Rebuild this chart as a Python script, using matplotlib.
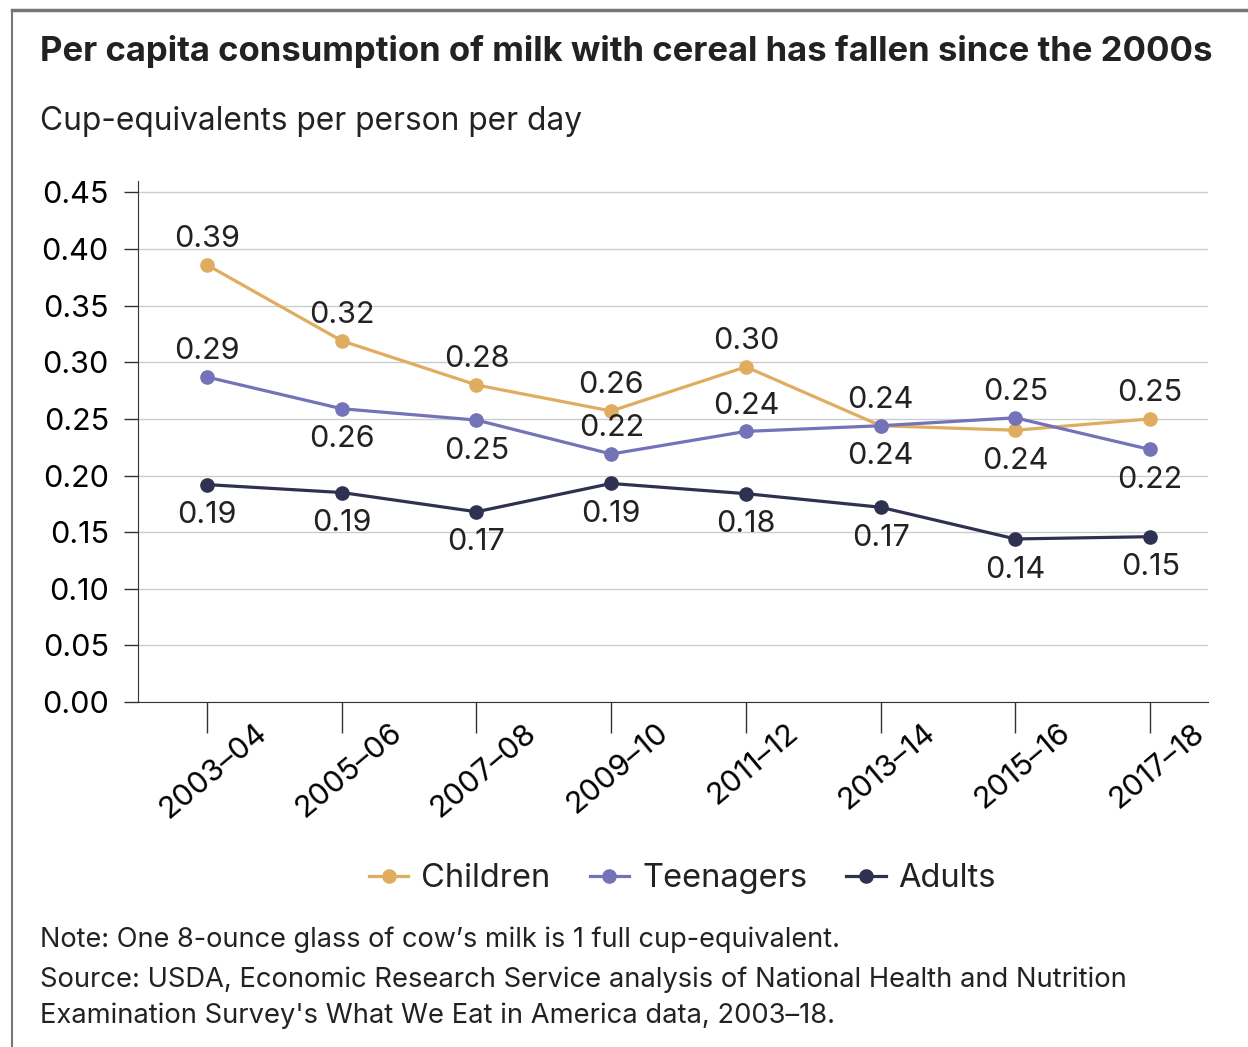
import matplotlib
matplotlib.use("Agg")
import matplotlib.pyplot as plt
from matplotlib.lines import Line2D
from matplotlib.transforms import ScaledTranslation

periods = ["2003–04", "2005–06", "2007–08", "2009–10", "2011–12", "2013–14", "2015–16", "2017–18"]
children = [0.386, 0.319, 0.280, 0.257, 0.296, 0.244, 0.240, 0.250]
teenagers = [0.287, 0.259, 0.249, 0.219, 0.239, 0.244, 0.251, 0.223]
adults = [0.192, 0.185, 0.168, 0.193, 0.184, 0.172, 0.144, 0.146]

children_lbl = ["0.39", "0.32", "0.28", "0.26", "0.30", "0.24", "0.24", "0.25"]
teen_lbl = ["0.29", "0.26", "0.25", "0.22", "0.24", "0.24", "0.25", "0.22"]
adults_lbl = ["0.19", "0.19", "0.17", "0.19", "0.18", "0.17", "0.14", "0.15"]

# 1 = label above the point, -1 = below
children_pos = [1, 1, 1, 1, 1, 1, -1, 1]
teen_pos = [1, -1, -1, 1, 1, -1, 1, -1]
adults_pos = [-1] * 8

c_child = "#E0AC5F"
c_teen = "#7472B8"
c_adult = "#2E3250"

plt.rcParams["font.family"] = ["Inter", "DejaVu Sans"]
plt.rcParams["text.color"] = "#222222"

fig = plt.figure(figsize=(12.48, 10.47), dpi=100)
ax = fig.add_axes([0.1106, 0.3295, 0.8574, 0.4975])

x = list(range(len(periods)))
series = [
    ("Children", children, children_lbl, children_pos, c_child),
    ("Teenagers", teenagers, teen_lbl, teen_pos, c_teen),
    ("Adults", adults, adults_lbl, adults_pos, c_adult),
]
for name, vals, lbls, pos, col in series:
    ax.plot(x, vals, color=col, lw=2.3, marker="o", ms=9.5, label=name, zorder=3)
    for xi, v, l, p in zip(x, vals, lbls, pos):
        ax.annotate(l, (xi, v), xytext=(0, 18.5 if p > 0 else -22),
                    textcoords="offset points", ha="center", va="center",
                    fontsize=22, color="#222222")

ax.set_xlim(-0.512, 7.43)
ax.set_ylim(0, 0.46)
ax.set_yticks([i * 0.05 for i in range(10)])
ax.set_yticklabels([f"{i * 0.05:.2f}" for i in range(10)], fontsize=22)
ax.set_xticks(x)
ax.set_xticklabels(periods, rotation=40, ha="center", va="top", fontsize=22)
ax.tick_params(axis="y", length=10, width=1, color="#333333", pad=11)
ax.tick_params(axis="x", length=22, width=1, color="#333333", pad=2)
# nudge rotated labels up/right (after tick_params, which resets transforms)
shift = ScaledTranslation(0.07, 0.17, fig.dpi_scale_trans)
for lab in ax.get_xticklabels():
    lab.set_transform(lab.get_transform() + shift)
ax.grid(axis="y", color="#cccccc", lw=1)
ax.set_axisbelow(True)
for s in ["top", "right"]:
    ax.spines[s].set_visible(False)
ax.spines["left"].set_color("#333333")
ax.spines["bottom"].set_color("#333333")

handles = [Line2D([], [], color=col, lw=2.3, marker="o", ms=9.5) for _, _, _, _, col in series]
fig.legend(handles, [s[0] for s in series], loc="center", bbox_to_anchor=(0.547, 0.161),
           ncol=3, frameon=False, fontsize=23.5, handlelength=1.2, handletextpad=0.4,
           columnspacing=1.2)

fig.text(0.032, 0.951, "Per capita consumption of milk with cereal has fallen since the 2000s",
         fontsize=25, fontweight="bold", va="center", color="#222222")
fig.text(0.032, 0.884, "Cup-equivalents per person per day", fontsize=22.8, va="center")
fig.text(0.032, 0.102, "Note: One 8-ounce glass of cow’s milk is 1 full cup-equivalent.",
         fontsize=19.5, va="center")
fig.text(0.032, 0.064, "Source: USDA, Economic Research Service analysis of National Health and Nutrition",
         fontsize=19.7, va="center")
fig.text(0.032, 0.030, "Examination Survey's What We Eat in America data, 2003–18.",
         fontsize=19.7, va="center")

# frame around the figure (top and left edges visible)
fig.add_artist(Line2D([0.0096, 1.0], [0.9905, 0.9905], color="#777777", lw=2.5))
fig.add_artist(Line2D([0.0096, 0.0096], [0.0, 0.9905], color="#777777", lw=1.5))

fig.savefig("out.png", dpi=100)
